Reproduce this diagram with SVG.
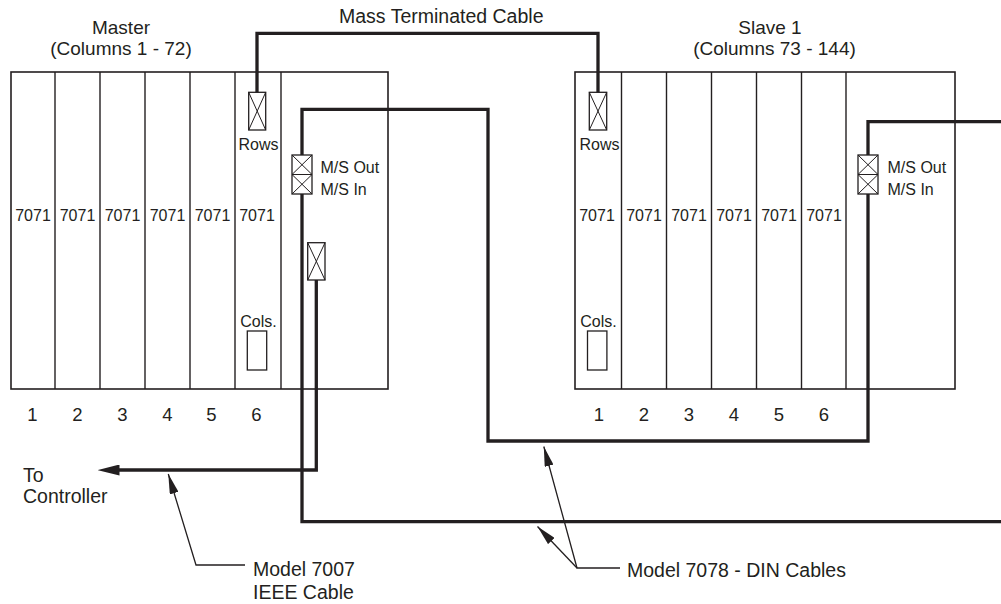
<svg xmlns="http://www.w3.org/2000/svg" width="1001" height="604" viewBox="0 0 1001 604">
<style>
  .chassis{fill:#fff;stroke:#231f20;stroke-width:1.6}
  .div{stroke:#231f20;stroke-width:1.4}
  .box{fill:#fff;stroke:#231f20;stroke-width:1.3}
  .x{stroke:#231f20;stroke-width:1}
  .cable{fill:none;stroke:#231f20;stroke-width:3.3;stroke-linejoin:miter}
  .lead{fill:none;stroke:#231f20;stroke-width:1.3}
  text{font-family:"Liberation Sans",Arial,sans-serif;fill:#231f20}
  .big{font-size:19.5px}
  .ttl{font-size:19px;text-anchor:middle}
  .sm{font-size:16px}
  .num{font-size:18.5px;text-anchor:middle}
  .mid{text-anchor:middle}
</style>
<defs>
  <marker id="bigArrow" markerUnits="userSpaceOnUse" viewBox="0 0 22 11" markerWidth="22" markerHeight="11" refX="0.5" refY="5.5" orient="auto">
    <path d="M0,0 L22,5.5 L0,11 z" fill="#231f20"/>
  </marker>
  <marker id="leadArrow" markerUnits="userSpaceOnUse" viewBox="0 0 20 9" markerWidth="20" markerHeight="9" refX="20" refY="4.5" orient="auto">
    <path d="M0,0 L20,4.5 L0,9 z" fill="#231f20"/>
  </marker>
</defs>

<g id="master">
  <rect class="chassis" x="11" y="72" width="377" height="317"/>
  <line class="div" x1="55" y1="72" x2="55" y2="389"/>
  <line class="div" x1="100" y1="72" x2="100" y2="389"/>
  <line class="div" x1="145" y1="72" x2="145" y2="389"/>
  <line class="div" x1="190" y1="72" x2="190" y2="389"/>
  <line class="div" x1="235" y1="72" x2="235" y2="389"/>
  <line class="div" x1="281" y1="72" x2="281" y2="389"/>
  <text class="ttl" x="121" y="34">Master</text>
  <text class="ttl" x="121" y="55.4">(Columns 1 - 72)</text>
  <text class="sm mid" x="33" y="221">7071</text>
  <text class="sm mid" x="77.5" y="221">7071</text>
  <text class="sm mid" x="122.5" y="221">7071</text>
  <text class="sm mid" x="167.5" y="221">7071</text>
  <text class="sm mid" x="212.5" y="221">7071</text>
  <text class="sm mid" x="257" y="221">7071</text>
  <text class="num" x="32.5" y="421">1</text>
  <text class="num" x="77.5" y="421">2</text>
  <text class="num" x="122.5" y="421">3</text>
  <text class="num" x="167.5" y="421">4</text>
  <text class="num" x="211.5" y="421">5</text>
  <text class="num" x="256.5" y="421">6</text>
</g>

<g id="master-rows">
  <rect class="box" x="248.7" y="92.3" width="17" height="37.7"/>
  <path class="x" d="M248.7,92.3 L265.7,130 M265.7,92.3 L248.7,130"/>
  <text class="sm mid" x="258.5" y="150">Rows</text>
</g>

<g id="master-cols">
  <text class="sm mid" x="258.4" y="327">Cols.</text>
  <rect class="box" x="247.3" y="331" width="19.4" height="39"/>
</g>

<g id="master-ms">
  <rect class="box" x="292" y="155" width="20" height="39"/>
  <line class="x" x1="292" y1="174.5" x2="312" y2="174.5"/>
  <path class="x" d="M292,155 L312,174.5 M312,155 L292,174.5 M292,174.5 L312,194 M312,174.5 L292,194"/>
  <text class="sm" x="320.5" y="173">M/S Out</text>
  <text class="sm" x="320.5" y="195">M/S In</text>
</g>

<g id="master-ieee">
  <rect class="box" x="307.7" y="242.7" width="17.3" height="37.3"/>
  <path class="x" d="M307.7,242.7 L325,280 M325,242.7 L307.7,280"/>
</g>

<g id="slave">
  <rect class="chassis" x="575" y="72" width="380" height="317"/>
  <line class="div" x1="621.5" y1="72" x2="621.5" y2="389"/>
  <line class="div" x1="666.5" y1="72" x2="666.5" y2="389"/>
  <line class="div" x1="711.5" y1="72" x2="711.5" y2="389"/>
  <line class="div" x1="756.5" y1="72" x2="756.5" y2="389"/>
  <line class="div" x1="801.5" y1="72" x2="801.5" y2="389"/>
  <line class="div" x1="846" y1="72" x2="846" y2="389"/>
  <text class="ttl" x="770" y="34">Slave 1</text>
  <text class="ttl" x="774.5" y="55.4">(Columns 73 - 144)</text>
  <text class="sm mid" x="597" y="221">7071</text>
  <text class="sm mid" x="644" y="221">7071</text>
  <text class="sm mid" x="689" y="221">7071</text>
  <text class="sm mid" x="734" y="221">7071</text>
  <text class="sm mid" x="779" y="221">7071</text>
  <text class="sm mid" x="824" y="221">7071</text>
  <text class="num" x="599" y="421">1</text>
  <text class="num" x="644" y="421">2</text>
  <text class="num" x="689" y="421">3</text>
  <text class="num" x="734" y="421">4</text>
  <text class="num" x="779" y="421">5</text>
  <text class="num" x="824" y="421">6</text>
</g>

<g id="slave-rows">
  <rect class="box" x="589.3" y="92.3" width="17.4" height="37.7"/>
  <path class="x" d="M589.3,92.3 L606.7,130 M606.7,92.3 L589.3,130"/>
  <text class="sm mid" x="599.5" y="150">Rows</text>
</g>

<g id="slave-cols">
  <text class="sm mid" x="598.5" y="327">Cols.</text>
  <rect class="box" x="587.5" y="331" width="19.4" height="39"/>
</g>

<g id="slave-ms">
  <rect class="box" x="858" y="155" width="20" height="39"/>
  <line class="x" x1="858" y1="174.5" x2="878" y2="174.5"/>
  <path class="x" d="M858,155 L878,174.5 M878,155 L858,174.5 M858,174.5 L878,194 M878,174.5 L858,194"/>
  <text class="sm" x="887.5" y="173">M/S Out</text>
  <text class="sm" x="887.5" y="195">M/S In</text>
</g>

<g id="labels">
  <text class="big" x="339" y="23">Mass Terminated Cable</text>
  <text class="big" x="23" y="481.7">To</text>
  <text class="big" x="23" y="502.7">Controller</text>
  <text class="big" x="253" y="576">Model 7007</text>
  <text class="big" x="253" y="599.3">IEEE Cable</text>
  <text class="big" x="627" y="577">Model 7078 - DIN Cables</text>
</g>

<g id="connectors">
  <path class="cable" d="M257,92.3 V33.3 H598 V92.3"/>
  <path class="cable" d="M302,155 V109.3 H488 V441 H868 V194"/>
  <path class="cable" d="M868,155 V121.7 H1001"/>
  <path class="cable" d="M302,194 V521.7 H1001"/>
  <path class="cable" d="M316.3,280 V470 H119" marker-end="url(#bigArrow)"/>
  <path class="lead" d="M245,565 H196 L168.3,474" marker-end="url(#leadArrow)"/>
  <path class="lead" d="M620,568 H577 L543.8,446.5" marker-end="url(#leadArrow)"/>
  <path class="lead" d="M577,568 L537.5,526.5" marker-end="url(#leadArrow)"/>
</g>
</svg>
